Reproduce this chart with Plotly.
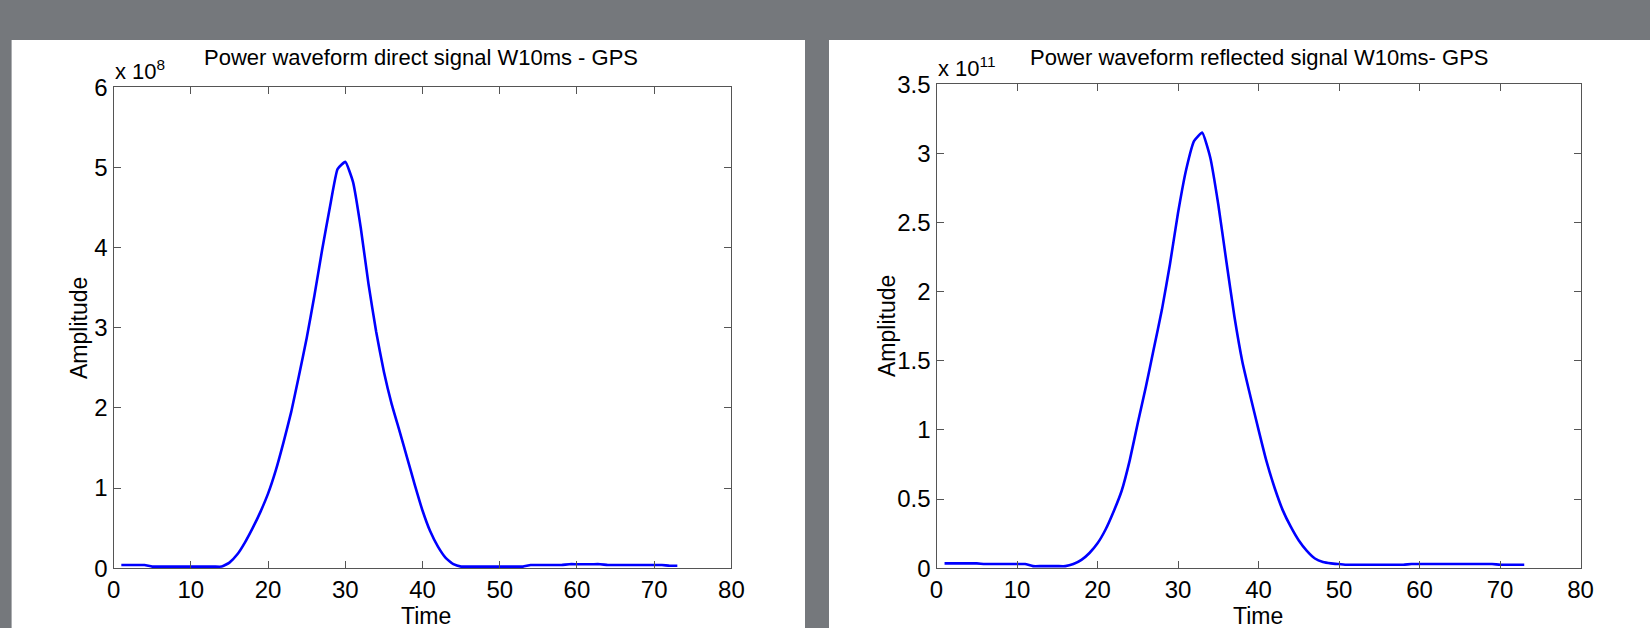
import plotly.graph_objects as go

# ---------------- data ----------------
time_direct = list(range(1, 74))
amp_direct = [  # x 1e8
    0.04, 0.04, 0.04, 0.04, 0.02, 0.02, 0.02, 0.02, 0.02, 0.02,
    0.02, 0.02, 0.02, 0.02, 0.07, 0.17, 0.32, 0.50, 0.70, 0.93,
    1.22, 1.57, 1.95, 2.40, 2.87, 3.40, 3.97, 4.50, 4.98, 5.07,
    4.82, 4.25, 3.55, 2.95, 2.45, 2.05, 1.72, 1.38, 1.04, 0.72,
    0.46, 0.27, 0.13, 0.05, 0.02, 0.02, 0.02, 0.02, 0.02, 0.02,
    0.02, 0.02, 0.02, 0.04, 0.04, 0.04, 0.04, 0.04, 0.05, 0.05,
    0.05, 0.05, 0.05, 0.04, 0.04, 0.04, 0.04, 0.04, 0.04, 0.04,
    0.04, 0.03, 0.03,
]

time_reflected = list(range(1, 74))
amp_reflected = [  # x 1e11
    0.035, 0.035, 0.035, 0.035, 0.035, 0.03, 0.03, 0.03, 0.03, 0.03,
    0.03, 0.015, 0.015, 0.015, 0.015, 0.015, 0.03, 0.06, 0.11, 0.18,
    0.28, 0.41, 0.56, 0.78, 1.05, 1.31, 1.59, 1.87, 2.20, 2.57,
    2.88, 3.09, 3.15, 2.97, 2.63, 2.22, 1.82, 1.49, 1.24, 1.00,
    0.77, 0.58, 0.42, 0.30, 0.20, 0.125, 0.07, 0.045, 0.035, 0.03,
    0.025, 0.025, 0.025, 0.025, 0.025, 0.025, 0.025, 0.025, 0.03, 0.03,
    0.03, 0.03, 0.03, 0.03, 0.03, 0.03, 0.03, 0.03, 0.03, 0.025,
    0.025, 0.025, 0.025,
]

x_ticks = [0, 10, 20, 30, 40, 50, 60, 70, 80]
y_ticks_direct = [0, 1, 2, 3, 4, 5, 6]
y_ticks_reflected = [0, 0.5, 1, 1.5, 2, 2.5, 3, 3.5]

title_direct = "Power waveform direct signal W10ms - GPS"
title_reflected = "Power waveform reflected signal W10ms- GPS"
exp_direct = "x 10<sup>8</sup>"
exp_reflected = "x 10<sup>11</sup>"
x_title = "Time"
y_title = "Amplitude"

# ---------------- figure ----------------
W, H = 1650, 628
BG = "#75787c"
FONT = "Liberation Sans, Arial, sans-serif"
TICKFONT = "Liberation Sans Narrow, Arial Narrow, Liberation Sans, sans-serif"


def px(x):
    return x / W


def py(y):
    return 1 - y / H


fig = go.Figure()
fig.add_trace(go.Scatter(x=time_direct, y=amp_direct, mode="lines",
                         line=dict(color="#0000ff", width=2.6, shape="spline", smoothing=0.4),
                         xaxis="x", yaxis="y", showlegend=False))
fig.add_trace(go.Scatter(x=time_reflected, y=amp_reflected, mode="lines",
                         line=dict(color="#0000ff", width=2.6, shape="spline", smoothing=0.4),
                         xaxis="x2", yaxis="y2", showlegend=False))

axis_common = dict(
    showgrid=False, zeroline=False, showline=True, linecolor="#555555",
    linewidth=1.2, mirror="ticks", ticks="inside", ticklen=7,
    tickcolor="#555555", tickwidth=1,
    tickfont=dict(family=TICKFONT, size=24, color="#000000"),
)

fig.update_layout(
    width=W, height=H, autosize=False,
    margin=dict(l=0, r=0, t=0, b=0, pad=0, autoexpand=False),
    paper_bgcolor=BG, plot_bgcolor="#ffffff",
    xaxis=dict(domain=[px(113.6), px(731.4)], range=[0, 80],
               tickvals=x_ticks, anchor="y", **axis_common),
    yaxis=dict(domain=[py(568.2), py(87.3)], range=[0, 6],
               tickvals=y_ticks_direct, anchor="x", **axis_common),
    xaxis2=dict(domain=[px(936.5), px(1580.6)], range=[0, 80],
                tickvals=x_ticks, anchor="y2", **axis_common),
    yaxis2=dict(domain=[py(568.2), py(84.2)], range=[0, 3.5],
                tickvals=y_ticks_reflected, anchor="x2", **axis_common),
    shapes=[
        dict(type="rect", xref="paper", yref="paper", layer="below",
             x0=px(11.6), x1=px(805), y0=0, y1=py(40),
             fillcolor="#ffffff", line=dict(width=0)),
        dict(type="rect", xref="paper", yref="paper", layer="below",
             x0=px(829), x1=1, y0=0, y1=py(40),
             fillcolor="#ffffff", line=dict(width=0)),
    ],
)

ann = []
txt = dict(family=FONT, color="#000000")
# titles
ann.append(dict(text=title_direct, x=px(421), y=py(58), xref="paper", yref="paper",
                showarrow=False, xanchor="center", yanchor="middle",
                font=dict(size=22, **txt)))
ann.append(dict(text=title_reflected, x=px(1259), y=py(58), xref="paper", yref="paper",
                showarrow=False, xanchor="center", yanchor="middle",
                font=dict(size=22, **txt)))
# exponents
ann.append(dict(text=exp_direct, x=px(113), y=py(86), xref="paper", yref="paper",
                showarrow=False, xanchor="left", yanchor="bottom",
                font=dict(size=22, family=TICKFONT, color="#000000")))
ann.append(dict(text=exp_reflected, x=px(936), y=py(83), xref="paper", yref="paper",
                showarrow=False, xanchor="left", yanchor="bottom",
                font=dict(size=22, family=TICKFONT, color="#000000")))
# axis titles
for cx in (426, 1258):
    ann.append(dict(text=x_title, x=px(cx), y=py(616), xref="paper", yref="paper",
                    showarrow=False, xanchor="center", yanchor="middle",
                    font=dict(size=23, family=TICKFONT, color="#000000")))
for cx, cy in ((79, 328), (887, 326)):
    ann.append(dict(text=y_title, x=px(cx), y=py(cy), xref="paper", yref="paper",
                    showarrow=False, xanchor="center", yanchor="middle", textangle=-90,
                    font=dict(size=23, **txt)))
fig.update_layout(annotations=ann)

post = (
    "document.documentElement.style.margin='0';"
    "document.documentElement.style.padding='0';"
    "document.documentElement.style.overflow='hidden';"
    "document.body.style.margin='0';document.body.style.padding='0';"
    "document.body.style.overflow='hidden';"
    "document.body.style.background='" + BG + "';"
    "var gd=document.getElementById('{plot_id}');"
    "Plotly.relayout(gd,{width:" + str(W) + ",height:" + str(H) + "});"
)
fig.write_html("out.html", config={"responsive": False, "displayModeBar": False},
               post_script=post)
